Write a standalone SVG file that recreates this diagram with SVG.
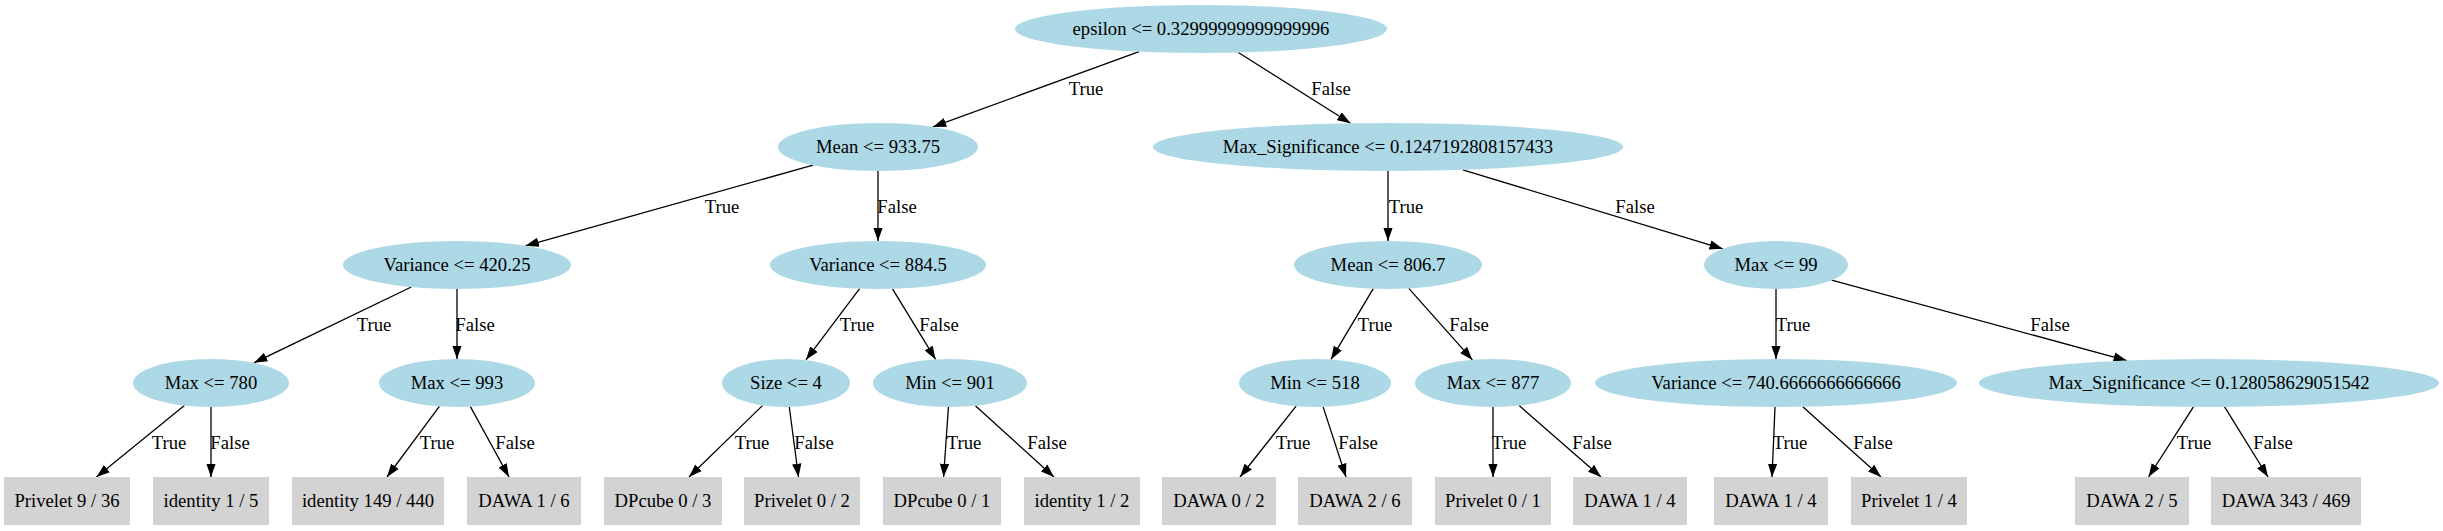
<svg xmlns="http://www.w3.org/2000/svg" width="2443" height="531" viewBox="0 0 2443 531">
<style>
text{font-family:"Liberation Serif","Times New Roman",serif;font-size:18.67px;fill:#000;text-anchor:middle}
.dec ellipse{fill:#add8e6;stroke:none}
.leaf rect{fill:#d3d3d3;stroke:none}
#edges line{stroke:#000;stroke-width:1.3;marker-end:url(#arr)}
</style>
<defs>
<marker id="arr" markerUnits="userSpaceOnUse" markerWidth="14" markerHeight="10" refX="13.3" refY="5" orient="auto" viewBox="0 0 14 10"><path d="M0,0.33 L13.3,5 L0,9.67 z" fill="#000"/></marker>
</defs>
<rect x="0" y="0" width="2443" height="531" fill="#fff"/>
<g id="edges">
<line x1="1139.1" y1="51.6" x2="932.9" y2="126.9"/>
<line x1="1238.3" y1="52.5" x2="1350.5" y2="123.3"/>
<line x1="813" y1="165.2" x2="525.5" y2="245.8"/>
<line x1="878" y1="171" x2="878" y2="241"/>
<line x1="1388" y1="171" x2="1388" y2="241"/>
<line x1="1462.8" y1="169.8" x2="1722.8" y2="248.8"/>
<line x1="411.3" y1="287" x2="254" y2="362.8"/>
<line x1="457" y1="289" x2="457" y2="359"/>
<line x1="859.6" y1="288.6" x2="806" y2="359.8"/>
<line x1="892.5" y1="288.8" x2="935.6" y2="359.4"/>
<line x1="1373.3" y1="288.7" x2="1331" y2="359.4"/>
<line x1="1408.8" y1="288.4" x2="1472.4" y2="359.9"/>
<line x1="1776" y1="289" x2="1776" y2="359"/>
<line x1="1831.7" y1="280.2" x2="2126.8" y2="360.6"/>
<line x1="184.4" y1="405.4" x2="96.5" y2="477"/>
<line x1="211" y1="407" x2="211" y2="477"/>
<line x1="439.4" y1="406.4" x2="387" y2="477"/>
<line x1="470.4" y1="406.6" x2="509" y2="477"/>
<line x1="762.7" y1="405.4" x2="689" y2="477"/>
<line x1="789.3" y1="407" x2="798.5" y2="477"/>
<line x1="948.4" y1="407" x2="943.6" y2="477"/>
<line x1="975.4" y1="405.7" x2="1054" y2="477"/>
<line x1="1296.1" y1="406.2" x2="1240" y2="477"/>
<line x1="1323.1" y1="406.9" x2="1346" y2="477"/>
<line x1="1493" y1="407" x2="1493" y2="477"/>
<line x1="1519.2" y1="405.6" x2="1601" y2="477"/>
<line x1="1775" y1="407" x2="1772" y2="477"/>
<line x1="1802.8" y1="406.7" x2="1881" y2="477"/>
<line x1="2193.4" y1="406.9" x2="2148.5" y2="477"/>
<line x1="2224.6" y1="406.9" x2="2268" y2="477"/>
<text x="1086" y="95">True</text>
<text x="1331" y="95">False</text>
<text x="722" y="213">True</text>
<text x="897" y="213">False</text>
<text x="1406" y="213">True</text>
<text x="1635" y="213">False</text>
<text x="374" y="331">True</text>
<text x="475" y="331">False</text>
<text x="857" y="331">True</text>
<text x="939" y="331">False</text>
<text x="1375" y="331">True</text>
<text x="1469" y="331">False</text>
<text x="1793" y="331">True</text>
<text x="2050" y="331">False</text>
<text x="169" y="449">True</text>
<text x="230" y="449">False</text>
<text x="437" y="449">True</text>
<text x="515" y="449">False</text>
<text x="752" y="449">True</text>
<text x="814" y="449">False</text>
<text x="964" y="449">True</text>
<text x="1047" y="449">False</text>
<text x="1293" y="449">True</text>
<text x="1358" y="449">False</text>
<text x="1509" y="449">True</text>
<text x="1592" y="449">False</text>
<text x="1790" y="449">True</text>
<text x="1873" y="449">False</text>
<text x="2194" y="449">True</text>
<text x="2273" y="449">False</text>
</g>
<g id="n0" class="dec"><ellipse cx="1201" cy="29" rx="186" ry="24"/><text x="1201" y="35">epsilon &lt;= 0.32999999999999996</text></g>
<g id="n1" class="dec"><ellipse cx="878" cy="147" rx="100" ry="24"/><text x="878" y="153">Mean &lt;= 933.75</text></g>
<g id="n2" class="dec"><ellipse cx="1388" cy="147" rx="235" ry="24"/><text x="1388" y="153">Max_Significance &lt;= 0.1247192808157433</text></g>
<g id="n3" class="dec"><ellipse cx="457" cy="265" rx="114" ry="24"/><text x="457" y="271">Variance &lt;= 420.25</text></g>
<g id="n4" class="dec"><ellipse cx="878" cy="265" rx="108" ry="24"/><text x="878" y="271">Variance &lt;= 884.5</text></g>
<g id="n5" class="dec"><ellipse cx="1388" cy="265" rx="94" ry="24"/><text x="1388" y="271">Mean &lt;= 806.7</text></g>
<g id="n6" class="dec"><ellipse cx="1776" cy="265" rx="72" ry="24"/><text x="1776" y="271">Max &lt;= 99</text></g>
<g id="n7" class="dec"><ellipse cx="211" cy="383" rx="78" ry="24"/><text x="211" y="389">Max &lt;= 780</text></g>
<g id="n8" class="dec"><ellipse cx="457" cy="383" rx="78" ry="24"/><text x="457" y="389">Max &lt;= 993</text></g>
<g id="n9" class="dec"><ellipse cx="786" cy="383" rx="64" ry="24"/><text x="786" y="389">Size &lt;= 4</text></g>
<g id="n10" class="dec"><ellipse cx="950" cy="383" rx="77" ry="24"/><text x="950" y="389">Min &lt;= 901</text></g>
<g id="n11" class="dec"><ellipse cx="1315" cy="383" rx="76" ry="24"/><text x="1315" y="389">Min &lt;= 518</text></g>
<g id="n12" class="dec"><ellipse cx="1493" cy="383" rx="78" ry="24"/><text x="1493" y="389">Max &lt;= 877</text></g>
<g id="n13" class="dec"><ellipse cx="1776" cy="383" rx="181" ry="24"/><text x="1776" y="389">Variance &lt;= 740.6666666666666</text></g>
<g id="n14" class="dec"><ellipse cx="2209" cy="383" rx="230" ry="24"/><text x="2209" y="389">Max_Significance &lt;= 0.128058629051542</text></g>
<g id="l1" class="leaf"><rect x="4" y="477" width="126" height="48"/><text x="67" y="507">Privelet 9 / 36</text></g>
<g id="l2" class="leaf"><rect x="153" y="477" width="116" height="48"/><text x="211" y="507">identity 1 / 5</text></g>
<g id="l3" class="leaf"><rect x="292" y="477" width="152" height="48"/><text x="368" y="507">identity 149 / 440</text></g>
<g id="l4" class="leaf"><rect x="467" y="477" width="114" height="48"/><text x="524" y="507">DAWA 1 / 6</text></g>
<g id="l5" class="leaf"><rect x="604" y="477" width="118" height="48"/><text x="663" y="507">DPcube 0 / 3</text></g>
<g id="l6" class="leaf"><rect x="744" y="477" width="116" height="48"/><text x="802" y="507">Privelet 0 / 2</text></g>
<g id="l7" class="leaf"><rect x="883" y="477" width="118" height="48"/><text x="942" y="507">DPcube 0 / 1</text></g>
<g id="l8" class="leaf"><rect x="1024" y="477" width="116" height="48"/><text x="1082" y="507">identity 1 / 2</text></g>
<g id="l9" class="leaf"><rect x="1162" y="477" width="114" height="48"/><text x="1219" y="507">DAWA 0 / 2</text></g>
<g id="l10" class="leaf"><rect x="1298" y="477" width="114" height="48"/><text x="1355" y="507">DAWA 2 / 6</text></g>
<g id="l11" class="leaf"><rect x="1435" y="477" width="116" height="48"/><text x="1493" y="507">Privelet 0 / 1</text></g>
<g id="l12" class="leaf"><rect x="1573" y="477" width="114" height="48"/><text x="1630" y="507">DAWA 1 / 4</text></g>
<g id="l13" class="leaf"><rect x="1714" y="477" width="114" height="48"/><text x="1771" y="507">DAWA 1 / 4</text></g>
<g id="l14" class="leaf"><rect x="1851" y="477" width="116" height="48"/><text x="1909" y="507">Privelet 1 / 4</text></g>
<g id="l15" class="leaf"><rect x="2075" y="477" width="114" height="48"/><text x="2132" y="507">DAWA 2 / 5</text></g>
<g id="l16" class="leaf"><rect x="2211" y="477" width="150" height="48"/><text x="2286" y="507">DAWA 343 / 469</text></g>
</svg>
